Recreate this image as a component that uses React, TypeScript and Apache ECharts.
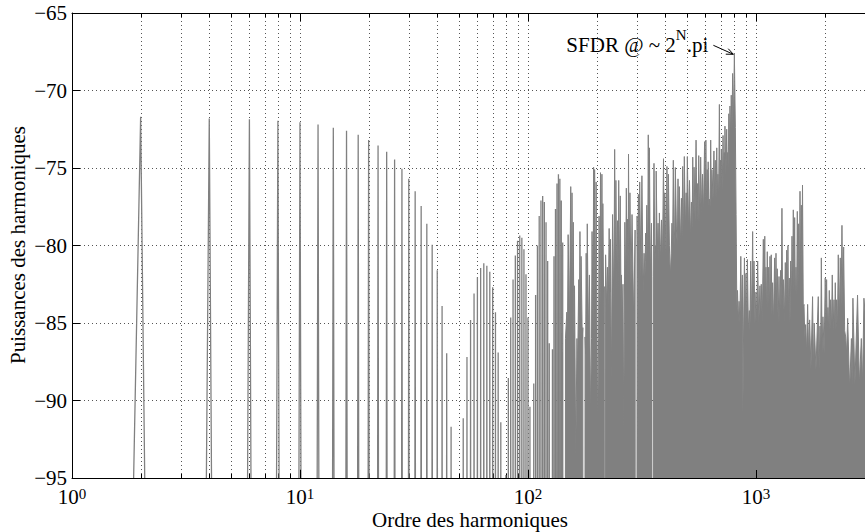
import React, { useEffect, useRef } from "react";
import * as echarts from "echarts";

// ---- axes ----
const X_MIN = 1;
const X_MAX = 3100;
const Y_MIN = -95;
const Y_MAX = -65;
const Y_STEP = 5;

// value used where a harmonic carries no power (the trace drops far below the plot)
const FLOOR_DB = -300;

// ---- low orders: even harmonics 2..144 (odd harmonics sit at the floor) ----
const lowOrders = [
  2, 4, 6, 8, 10, 12, 14, 16, 18, 20, 22, 24, 26, 28, 30, 32, 34, 36, 38, 40,
  42, 44, 46, 48, 50, 52, 54, 56, 58, 60, 62, 64, 66, 68, 70, 72, 74, 76, 78, 80,
  82, 84, 86, 88, 90, 92, 94, 96, 98, 100, 102, 104, 106, 108, 110, 112, 114, 116,
  118, 120, 122, 124, 126, 128, 130, 132, 134, 136, 138, 140, 142, 144,
];
const lowDb = [
  -71.7, -71.8, -71.85, -71.95, -72.05, -72.2, -72.4, -72.6, -72.85, -73.2,
  -73.55, -73.95, -74.45, -75.05, -75.7, -76.5, -77.45, -78.6, -79.95, -81.6,
  -83.9, -86.95, -91.7, -300, -300, -91.15, -87.2, -84.8, -83.1, -82.05,
  -81.45, -81.15, -81.3, -81.7, -82.7, -84.3, -86.9, -91.4, -300, -94.8,
  -88.55, -84.65, -82.2, -80.65, -79.7, -79.35, -79.5, -80.25, -81.85, -84.65,
  -90.4, -300, -88.9, -83.2, -80.0, -78.1, -77.1, -76.8, -77.2, -78.5,
  -81.0, -86.3, -300, -86.7, -80.7, -77.65, -76.0, -75.4, -75.7, -77.1,
  -79.8, -300,
];

// ---- dense orders (144..3036): trace read as alternating peaks / dips ----
const denseOrders = [
  144, 146, 148, 149, 150, 152, 154, 155, 156, 157, 158, 159, 160, 162, 164, 165,
  167, 168, 169, 170, 171, 173, 174, 175, 178, 179, 180, 181, 182, 184, 186, 188,
  190, 191, 193, 194, 195, 196, 198, 199, 202, 204, 205, 207, 208, 210, 211, 212,
  213, 215, 216, 218, 219, 221, 223, 225, 227, 229, 230, 232, 235, 238, 240, 242,
  243, 245, 247, 249, 250, 252, 254, 256, 257, 259, 261, 263, 266, 268, 270, 272,
  273, 275, 276, 278, 280, 283, 286, 291, 295, 298, 301, 303, 305, 307, 309, 313,
  316, 320, 323, 326, 328, 330, 332, 335, 337, 339, 341, 344, 348, 351, 354, 357,
  360, 362, 364, 365, 369, 372, 375, 377, 381, 385, 389, 393, 396, 398, 403, 407,
  410, 413, 417, 421, 425, 428, 431, 434, 437, 440, 443, 448, 452, 455, 458, 461,
  466, 471, 474, 477, 481, 485, 490, 494, 497, 500, 506, 511, 516, 521, 525, 528,
  532, 535, 541, 546, 550, 553, 557, 561, 567, 572, 578, 583, 589, 595, 599, 603,
  607, 611, 614, 617, 621, 624, 629, 633, 637, 641, 648, 654, 659, 663, 668, 673,
  677, 681, 686, 691, 695, 699, 702, 705, 711, 717, 722, 726, 729, 731, 738, 744,
  748, 751, 756, 760, 765, 769, 774, 779, 785, 790, 797, 804, 812, 818, 824, 830,
  836, 843, 850, 858, 865, 872, 876, 883, 890, 897, 904, 910, 917, 926, 935, 941,
  948, 957, 967, 973, 980, 990, 1000, 1008, 1017, 1029, 1041, 1048, 1055, 1066,
  1077, 1085, 1093, 1100, 1106, 1113, 1121, 1129, 1137, 1145, 1152, 1160, 1167,
  1175, 1183, 1195, 1207, 1215, 1224, 1232, 1240, 1251, 1262, 1272, 1283, 1291,
  1300, 1309, 1318, 1331, 1345, 1354, 1364, 1372, 1381, 1390, 1400, 1410, 1420,
  1430, 1439, 1448, 1458, 1468, 1478, 1488, 1498, 1508, 1518, 1528, 1539, 1550,
  1560, 1570, 1581, 1590, 1600, 1612, 1624, 1638, 1652, 1668, 1685, 1702, 1719,
  1742, 1771, 1785, 1800, 1833, 1876, 1892, 1909, 1922, 1935, 1950, 1967, 1990,
  2013, 2027, 2041, 2055, 2069, 2083, 2097, 2112, 2126, 2143, 2161, 2180, 2199,
  2213, 2228, 2243, 2258, 2277, 2296, 2320, 2343, 2363, 2383, 2404, 2424, 2449,
  2474, 2500, 2524, 2576, 2622, 2642, 2662, 2716, 2789, 2840, 2898, 2935, 2975,
  3036,
];
const denseDb = [
  -300, -86, -84.3, -86, -79.3, -85, -76.2, -84, -76.6, -85, -78.5, -86, -82.6, -93.6, -86, -88,
  -82.2, -86, -79.1, -85, -80.7, -86, -85.3, -300, -85.9, -87, -80.5, -85, -78.6, -86, -81.9, -91,
  -86, -79.1, -85, -74.95, -84, -75.1, -84, -75.9, -92, -86, -78.1, -84, -75.3, -83, -75.4, -83,
  -77.3, -85, -82.65, -300, -80.6, -84, -81.4, -84, -78.9, -83, -79.6, -88.9, -78.0, -84, -73.8, -83,
  -75.8, -83, -78.4, -83, -75.8, -82, -76.8, -84, -81.9, -85, -82.5, -92, -78.5, -83, -76.3, -82,
  -78.3, -82, -74.1, -82, -76.6, -82.5, -78.0, -85, -79.0, -300, -78.1, -82, -76.7, -81, -75.9, -82,
  -75.5, -83, -80.5, -82, -79.2, -81, -77.4, -81, -72.86, -80, -73.7, -82, -78.56, -300, -82, -74.7,
  -80.5, -80, -81, -75.2, -80.5, -78.56, -81, -77.9, -81, -78.35, -81, -74.4, -80.5, -76.6, -80.5, -74.9,
  -80, -75.4, -80, -82, -80.5, -78.56, -80, -74.5, -80, -79, -74.97, -79, -80, -75.7, -79.5, -76.2,
  -80, -76.95, -79.5, -74.9, -79.5, -74.26, -79, -76.6, -79, -74.26, -79, -75.8, -79.5, -77.2, -79, -74.3,
  -79, -74.95, -78.5, -73.2, -78, -76.0, -78.5, -74.2, -78.5, -74.3, -78, -75.4, -78, -73.3, -77.5, -73.2,
  -77.5, -75.1, -77.5, -74.6, -77.5, -77.0, -77.5, -73.2, -77, -75.1, -77, -73.9, -77, -74.5, -77, -73.7,
  -77, -75.4, -77, -70.9, -76.5, -74.5, -76.5, -73.8, -76.5, -72.9, -76, -74, -75.5, -72.3, -75.5, -72.5,
  -75, -74, -75, -71.5, -74, -71.0, -73, -70.3, -72.5, -68.9, -72, -67.6, -72.4, -78, -84, -82.9,
  -85, -83.6, -85, -80.7, -85, -81.9, -91, -85, -80.8, -85, -81.8, -85, -80.9, -85.5, -84.2, -85.5,
  -81.0, -85, -79.1, -84, -81.0, -85, -83.0, -85, -81.0, -85, -82.6, -84.5, -82.5, -85,
  -79.6, -83, -79.4, -84, -81.4, -84.5, -80.4, -84, -81.4, -84.5, -80.7, -84, -80.6,
  -84.5, -82.4, -85, -80.8, -84, -80.5, -84, -81.5, -85, -82.0, -85, -81.6, -84,
  -77.6, -84, -82.2, -85, -81.1, -84, -80.3, -84, -80.0, -84.5, -82.1, -85, -81.0,
  -84, -79.4, -83, -77.7, -83, -78.2, -84, -81.4, -84, -77.8, -83, -78.6, -83,
  -76.5, -82, -77.4, -82, -76.1, -84, -83.8, -86, -85.1, -87, -83.8, -87, -84.8,
  -88, -83.3, -88, -85.0, -88, -83.3, -88, -85.2, -87, -80.8, -87, -84.6, -87,
  -82.1, -85, -82.2, -85.5, -84.0, -85.5, -82.9, -85.5, -83.5, -85.5, -81.9, -85.5, -83.5,
  -85.5, -82.4, -85.5, -83.5, -85.5, -80.6, -85, -80.8, -84, -78.7, -84, -80.1, -85.5,
  -85.9, -87, -84.7, -89.3, -86, -89, -83.4, -89, -83.2, -89, -86, -89, -83.4,
  -85,
];

// ---- grid lines of the log axis ----
const majorGridOrders = [10, 100, 1000];
const minorGridOrders = [
  2, 3, 4, 5, 6, 7, 8, 9, 20, 30, 40, 50, 60, 70, 80, 90,
  200, 300, 400, 500, 600, 700, 800, 900, 2000, 3000,
];

// ---- annotation ----
const ANNOT_ORDER = 804;
const ANNOT_DB = -67.6;

const FONT = '"Liberation Serif", "Times New Roman", serif';
const TRACE = "#808080";
const GRID_COLOR = "#555";

export default function App() {
  const ref = useRef<HTMLDivElement>(null);

  useEffect(() => {
    const el = ref.current;
    if (!el) return;
    const chart = echarts.init(el, null, { renderer: "svg" });

    const lowData: number[][] = [[1, FLOOR_DB]];
    lowOrders.forEach((n, i) => {
      lowData.push([n, lowDb[i]]);
      lowData.push([n + 1, FLOOR_DB]);
    });
    const denseData = denseOrders.map((n, i) => [n, denseDb[i]]);

    const gridRender = (withTick: boolean) => (params: any, api: any) => {
      const v = api.value(0);
      const b = api.coord([v, Y_MIN]);
      const t = api.coord([v, Y_MAX]);
      const x = Math.round(b[0]) + 0.5;
      const children: any[] = [
        {
          type: "line",
          shape: { x1: x, y1: b[1], x2: x, y2: t[1] },
          style: { stroke: GRID_COLOR, lineWidth: 1, lineDash: [1, 3] },
        },
      ];
      if (withTick) {
        children.push({
          type: "line",
          shape: { x1: x, y1: b[1], x2: x, y2: b[1] - 4 },
          style: { stroke: "#000", lineWidth: 1 },
        });
        children.push({
          type: "line",
          shape: { x1: x, y1: t[1], x2: x, y2: t[1] + 4 },
          style: { stroke: "#000", lineWidth: 1 },
        });
      }
      return { type: "group", children };
    };

    const option: any = {
      animation: false,
      backgroundColor: "#fff",
      grid: { left: 72, top: 13, right: -3, bottom: 54, outerBoundsMode: "none" },
      xAxis: [
        {
          type: "log",
          logBase: 10,
          min: X_MIN,
          max: X_MAX,
          position: "bottom",
          z: 3,
          axisLine: { show: true, lineStyle: { color: "#000", width: 1 } },
          axisTick: { show: true, inside: true, length: 8, lineStyle: { color: "#000" } },
          splitLine: { show: false },
          axisLabel: {
            margin: 8,
            color: "#000",
            fontFamily: FONT,
            fontSize: 21,
            formatter: (v: number) => {
              const e = Math.log10(v);
              const r = Math.round(e);
              if (Math.abs(e - r) > 1e-6) return "";
              return `{b|10}{sup|${r}}`;
            },
            rich: {
              b: { fontFamily: FONT, fontSize: 21, lineHeight: 22, color: "#000" },
              sup: { fontFamily: FONT, fontSize: 15, lineHeight: 8, verticalAlign: "top", color: "#000" },
            },
          },
        },
        {
          type: "log",
          logBase: 10,
          min: X_MIN,
          max: X_MAX,
          position: "top",
          z: 3,
          axisLine: { show: true, lineStyle: { color: "#000", width: 1 } },
          axisTick: { show: true, inside: true, length: 8, lineStyle: { color: "#000" } },
          splitLine: { show: false },
          axisLabel: { show: false },
        },
      ],
      yAxis: {
        type: "value",
        min: Y_MIN,
        max: Y_MAX,
        interval: Y_STEP,
        axisLine: { show: true, lineStyle: { color: "#000", width: 1 } },
        axisTick: { show: true, inside: true, length: 8, lineStyle: { color: "#000" } },
        splitLine: { show: true, lineStyle: { color: GRID_COLOR, width: 1, type: [1, 3] } },
        axisLabel: {
          margin: 5,
          color: "#000",
          fontFamily: FONT,
          fontSize: 21,
          lineHeight: 16,
          formatter: (v: number) => String(v).replace("-", "\u2212"),
        },
      },
      series: [
        {
          type: "custom",
          xAxisIndex: 0,
          yAxisIndex: 0,
          silent: true,
          clip: false,
          z: 1,
          data: majorGridOrders.map((v) => [v, Y_MIN]),
          renderItem: gridRender(false),
        },
        {
          type: "custom",
          xAxisIndex: 0,
          yAxisIndex: 0,
          silent: true,
          clip: false,
          z: 1,
          data: minorGridOrders.map((v) => [v, Y_MIN]),
          renderItem: gridRender(true),
        },
        {
          type: "line",
          name: "low",
          xAxisIndex: 0,
          yAxisIndex: 0,
          data: lowData,
          showSymbol: false,
          symbol: "none",
          clip: true,
          z: 2,
          lineStyle: { color: TRACE, width: 1.3 },
        },
        {
          type: "line",
          name: "dense",
          xAxisIndex: 0,
          yAxisIndex: 0,
          data: denseData,
          showSymbol: false,
          symbol: "none",
          clip: true,
          z: 2,
          lineStyle: { color: TRACE, width: 1 },
          areaStyle: { color: TRACE, opacity: 1, origin: "start" },
        },
      ],
    };

    chart.setOption(option);

    const tip = chart.convertToPixel({ xAxisIndex: 0, yAxisIndex: 0 }, [ANNOT_ORDER, ANNOT_DB]) as number[];
    const tx = tip[0] - 1;
    const ty = tip[1] + 1;
    const sx = tx - 20;
    const sy = ty - 9;
    const dx = tx - sx;
    const dy = ty - sy;
    const len = Math.sqrt(dx * dx + dy * dy);
    const ux = dx / len;
    const uy = dy / len;
    const hb = [tx - 7 * ux, ty - 7 * uy];
    const px = -uy * 3;
    const py = ux * 3;

    chart.setOption({
      graphic: [
        {
          type: "text",
          x: 470,
          y: 520,
          silent: true,
          style: {
            text: "Ordre des harmoniques",
            fontFamily: FONT,
            fontSize: 21,
            lineHeight: 20,
            fill: "#000",
            align: "center",
            verticalAlign: "middle",
          },
        },
        {
          type: "text",
          x: 18,
          y: 245,
          rotation: Math.PI / 2,
          silent: true,
          style: {
            text: "Puissances des harmoniques",
            fontFamily: FONT,
            fontSize: 21,
            fill: "#000",
            align: "center",
            verticalAlign: "middle",
          },
        },
        {
          type: "text",
          x: sx - 147,
          y: sy,
          silent: true,
          style: {
            text: "{n|SFDR @ ~ 2}{sup|N}{n|.pi}",
            fill: "#000",
            fontFamily: FONT,
            fontSize: 21,
            align: "left",
            verticalAlign: "middle",
            rich: {
              n: { fontFamily: FONT, fontSize: 21, lineHeight: 36, fill: "#000" },
              sup: { fontFamily: FONT, fontSize: 15, lineHeight: 15, verticalAlign: "top", fill: "#000" },
            },
          },
        },
        {
          type: "line",
          silent: true,
          shape: { x1: sx, y1: sy, x2: tx, y2: ty },
          style: { stroke: "#000", lineWidth: 1 },
        },
        {
          type: "polyline",
          silent: true,
          shape: {
            points: [
              [hb[0] + px, hb[1] + py],
              [tx, ty],
              [hb[0] - px, hb[1] - py],
            ],
          },
          style: { stroke: "#000", lineWidth: 1, fill: null },
        },
      ],
    });

    return () => chart.dispose();
  }, []);

  return (
    <div
      ref={ref}
      style={{ position: "fixed", left: 0, top: 0, width: 865, height: 532, background: "#fff" }}
    />
  );
}
